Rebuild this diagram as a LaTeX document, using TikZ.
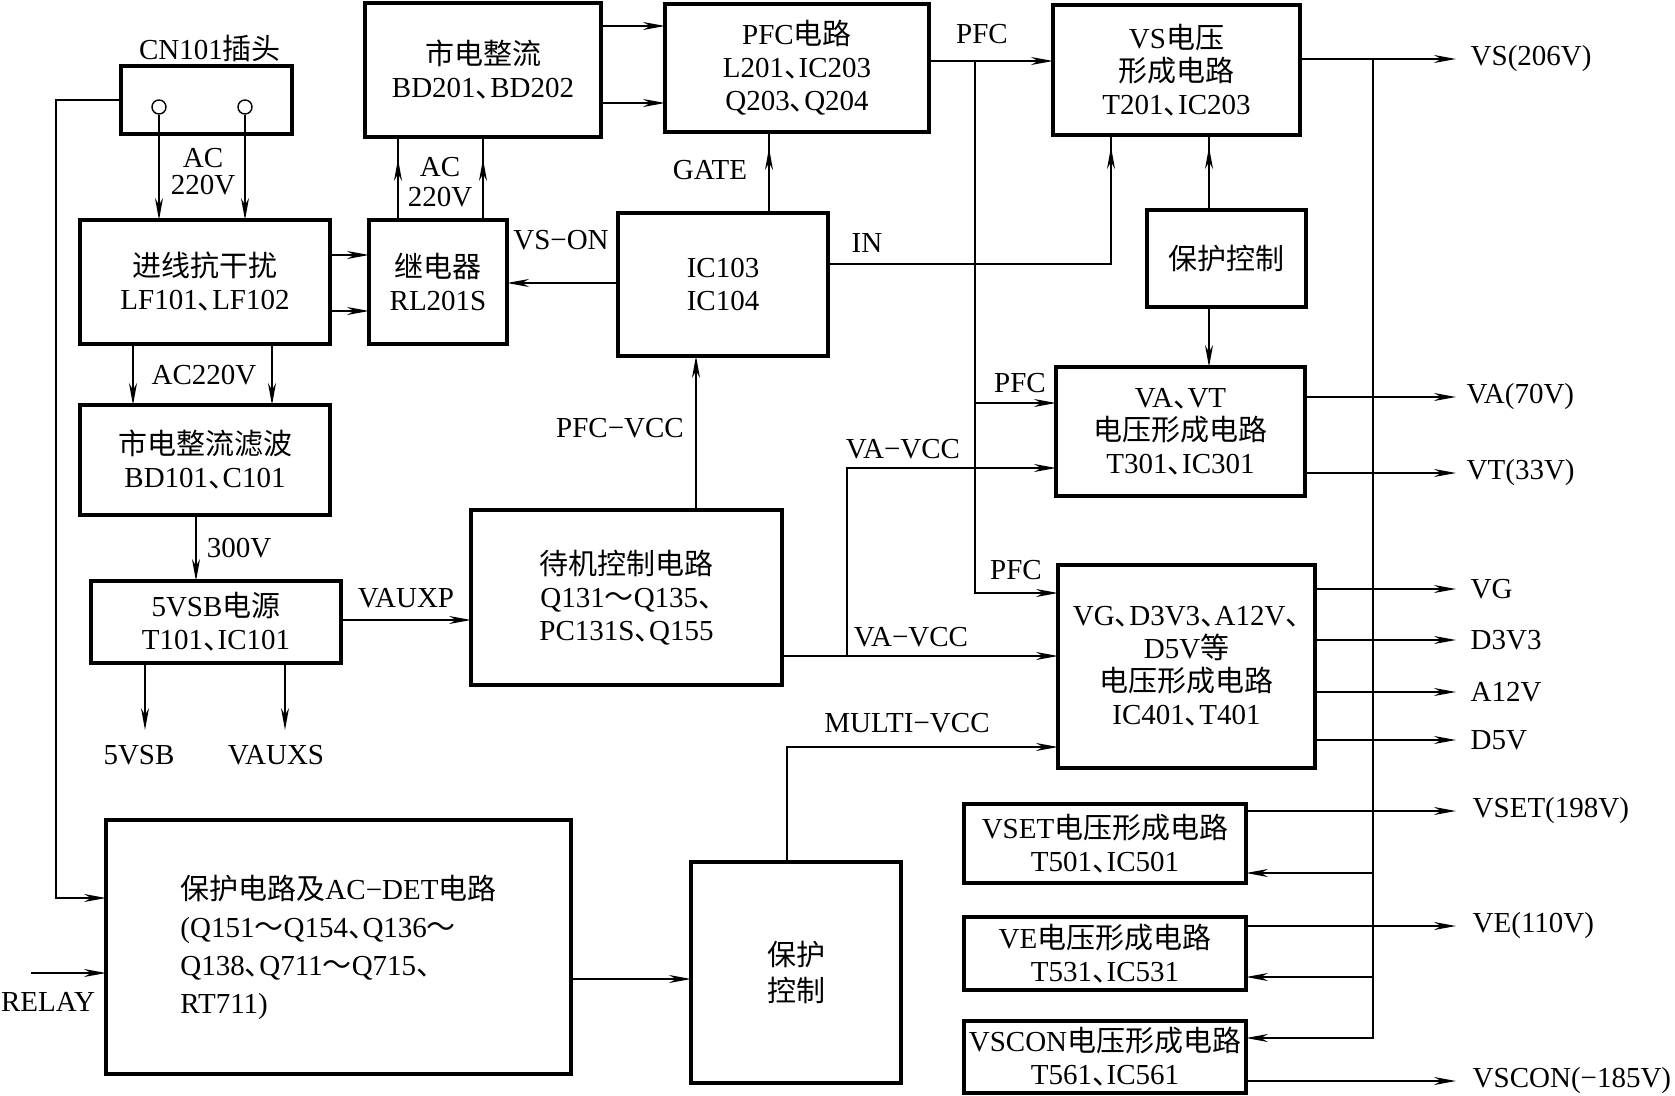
\documentclass[tikz,border=0pt]{standalone}
\usepackage{fontspec}
\setmainfont{Liberation Serif}
\newfontfamily\cjk{Noto Sans CJK SC}
\newcommand\C[1]{{\cjk #1}}
\newcommand\dun{{\cjk 、}\kern-.5em}
\newcommand\fs{\fontsize{14.5pt}{16.5pt}\selectfont}
\usetikzlibrary{arrows.meta,decorations.markings}
\begin{document}
\begin{tikzpicture}[x=0.5pt,y=-0.5pt,line width=0.7pt,
  >={Stealth[length=11pt,width=4pt,inset=3.5pt]},
  blk/.style={draw,line width=2pt,inner sep=0pt,outer sep=0pt,align=center,font=\fs},
  lbl/.style={font=\fs,inner sep=0pt},
  rlbl/.style={font=\fs,inner sep=0pt,anchor=west},
  mid/.style={postaction={decorate},decoration={markings,mark=at position -#1 with {\arrow{>}}}},
  pin/.style={circle,draw,line width=0.7pt,minimum size=7pt,inner sep=0pt}]
\useasboundingbox (0,0) rectangle (1675,1096);
% ---- boxes
\node[blk,minimum width=85.5pt,minimum height=34pt] (cn) at (206.5,100) {};
\node[blk,minimum width=125pt,minimum height=62pt] (jx) at (205,282) {\C{进线抗干扰}\\LF101\dun LF102};
\node[blk,minimum width=69pt,minimum height=62pt] (jd) at (438,282) {\C{继电器}\\RL201S};
\node[blk,minimum width=118pt,minimum height=67pt] (sz) at (483,70) {\C{市电整流}\\BD201\dun BD202};
\node[blk,minimum width=132pt,minimum height=64pt] (pfc) at (797,68) {PFC\C{电路}\\L201\dun IC203\\Q203\dun Q204};
\node[blk,minimum width=123.5pt,minimum height=65pt] (vs) at (1176.5,70) {VS\C{电压}\\\C{形成电路}\\T201\dun IC203};
\node[blk,minimum width=105pt,minimum height=71.5pt] (ic) at (723,284.5) {IC103\\IC104};
\node[blk,minimum width=79.5pt,minimum height=48.5pt] (bh1) at (1226.5,258.5) {\C{保护控制}};
\node[blk,minimum width=124.5pt,minimum height=64.5pt] (va) at (1180.5,431.5) {VA\dun VT\\\C{电压形成电路}\\T301\dun IC301};
\node[blk,minimum width=125pt,minimum height=55pt] (lb) at (205,460) {\C{市电整流滤波}\\BD101\dun C101};
\node[blk,minimum width=125pt,minimum height=41pt] (sb) at (216,622) {5VSB\C{电源}\\T101\dun IC101};
\node[blk,minimum width=155.5pt,minimum height=87.5pt] (dj) at (626.5,597.5) {\C{待机控制电路}\\Q131\C{～}Q135\dun\\PC131S\dun Q155};
\node[blk,minimum width=128.5pt,minimum height=101.5pt] (vg) at (1186.5,666.5) {VG\dun D3V3\dun A12V\dun\\D5V\C{等}\\\C{电压形成电路}\\IC401\dun T401};
\node[blk,minimum width=232.5pt,minimum height=127pt,align=left,font=\fontsize{14.5pt}{19pt}\selectfont] (bh) at (338.5,947) {\C{保护电路及}AC−DET\C{电路}\\(Q151\C{～}Q154\dun Q136\C{～}\\Q138\dun Q711\C{～}Q715\dun\\RT711)};
\node[blk,minimum width=105pt,minimum height=110.5pt,font=\fontsize{14.5pt}{18pt}\selectfont] (bk) at (796,972.5) {\C{保护}\\\C{控制}};
\node[blk,minimum width=141pt,minimum height=39.5pt] (vset) at (1105,843.5) {VSET\C{电压形成电路}\\T501\dun IC501};
\node[blk,minimum width=141pt,minimum height=36.5pt] (ve) at (1105,953.5) {VE\C{电压形成电路}\\T531\dun IC531};
\node[blk,minimum width=141pt,minimum height=36pt] (vscon) at (1105,1057) {VSCON\C{电压形成电路}\\T561\dun IC561};
% ---- pins
\node[pin] (c1) at (159,107) {};
\node[pin] (c2) at (245,107) {};
% ---- labels
\node[lbl] (lcn) at (210,48) {CN101\C{插头}};
\node[lbl,align=center,font=\fontsize{14.5pt}{13.5pt}\selectfont] (lac1) at (203,171.5) {AC\\220V};
\node[lbl,align=center,font=\fontsize{14.5pt}{15pt}\selectfont] (lac2) at (440,182) {AC\\220V};
\node[lbl] (lvson) at (561,240) {VS−ON};
\node[lbl] (lgate) at (710,170) {GATE};
\node[lbl] (lpfc1) at (982,34) {PFC};
\node[lbl] (lin) at (867,243) {IN};
\node[lbl] (lpfcvcc) at (620,428) {PFC−VCC};
\node[lbl] (lac3) at (204,375) {AC220V};
\node[lbl] (l300) at (239,548) {300V};
\node[lbl] (lvauxp) at (406,598) {VAUXP};
\node[lbl] (l5vsb) at (139,755) {5VSB};
\node[lbl] (lvauxs) at (276,755) {VAUXS};
\node[lbl] (lvavcc1) at (903,449) {VA−VCC};
\node[lbl] (lvavcc2) at (911,637) {VA−VCC};
\node[lbl] (lpfc2) at (1020,383) {PFC};
\node[lbl] (lpfc3) at (1016,570) {PFC};
\node[lbl] (lmulti) at (907,723) {MULTI−VCC};
\node[lbl] (lrelay) at (48,1002) {RELAY};
% ---- output ends and labels
\coordinate (oVS) at (1456,59);
\coordinate (oVA) at (1456,397);
\coordinate (oVT) at (1456,473);
\coordinate (oVG) at (1456,589);
\coordinate (oD3) at (1456,640);
\coordinate (oA12) at (1456,692);
\coordinate (oD5) at (1456,740);
\coordinate (oVSET) at (1456,811);
\coordinate (oVE) at (1456,926);
\coordinate (oVSCON) at (1456,1081);
\node[rlbl] (tVS) at (1470,59) {VS(206V)};
\node[rlbl] (tVA) at (1466,397) {VA(70V)};
\node[rlbl] (tVT) at (1466,473) {VT(33V)};
\node[rlbl] (tVG) at (1470,589) {VG};
\node[rlbl] (tD3) at (1470,640) {D3V3};
\node[rlbl] (tA12) at (1470,692) {A12V};
\node[rlbl] (tD5) at (1470,740) {D5V};
\node[rlbl] (tVSET) at (1472,811) {VSET(198V)};
\node[rlbl] (tVE) at (1472,926) {VE(110V)};
\node[rlbl] (tVSCON) at (1472,1081) {VSCON(−185V)};
\coordinate (o5vsb) at (145,730);
\coordinate (ovauxs) at (285,730);
\coordinate (relayin) at (31,973);
% ---- connectors
\draw[->] (cn.west |- 0,100) -- (56,100) -- (56,898) -- (bh.west |- 0,898);
\draw[->] (c1.south) -- (c1.south |- jx.north);
\draw[->] (c2.south) -- (c2.south |- jx.north);
\draw[->] (jx.east |- 0,255) -- (jd.west |- 0,255);
\draw[->] (jx.east |- 0,311) -- (jd.west |- 0,311);
\draw[mid=11pt] (jd.north -| 398,0) -- (sz.south -| 398,0);
\draw[mid=11pt] (jd.north -| 483,0) -- (sz.south -| 483,0);
\draw[->] (sz.east |- 0,26) -- (pfc.west |- 0,26);
\draw[->] (sz.east |- 0,103) -- (pfc.west |- 0,103);
\draw[->] (pfc.east |- 0,61) -- (vs.west |- 0,61);
\draw[->] (975,61) -- (975,593) -- (vg.west |- 0,593);
\draw[->] (975,403) -- (va.west |- 0,403);
\draw[->] (vs.east |- oVS) -- (oVS);
\draw[->] (1373,59) -- (1373,1038) -- (vscon.east |- 0,1038);
\draw[->] (1373,873) -- (vset.east |- 0,873);
\draw[->] (1373,977) -- (ve.east |- 0,977);
\draw[->] (ic.west |- 0,283) -- (jd.east |- 0,283);
\draw[mid=8pt] (ic.north -| 769,0) -- (pfc.south -| 769,0);
\draw[mid=6pt] (ic.east |- 0,264) -| (vs.south -| 1111,0);
\draw[mid=6pt] (bh1.north -| 1209,0) -- (vs.south -| 1209,0);
\draw[->] (bh1.south -| 1209,0) -- (va.north -| 1209,0);
\draw[->] (va.east |- oVA) -- (oVA);
\draw[->] (va.east |- oVT) -- (oVT);
\draw[->] (jx.south -| 133,0) -- (lb.north -| 133,0);
\draw[->] (jx.south -| 272,0) -- (lb.north -| 272,0);
\draw[->] (lb.south -| 196,0) -- (sb.north -| 196,0);
\draw[->] (sb.east |- 0,620) -- (dj.west |- 0,620);
\draw[->] (sb.south -| o5vsb) -- (o5vsb);
\draw[->] (sb.south -| ovauxs) -- (ovauxs);
\draw[->] (dj.north -| 696,0) -- (ic.south -| 696,0);
\draw[->] (dj.east |- 0,656) -- (vg.west |- 0,656);
\draw[->] (847,656) |- (va.west |- 0,468);
\draw[->] (vg.east |- oVG) -- (oVG);
\draw[->] (vg.east |- oD3) -- (oD3);
\draw[->] (vg.east |- oA12) -- (oA12);
\draw[->] (vg.east |- oD5) -- (oD5);
\draw[->] (bk.north -| 787,0) |- (vg.west |- 0,747);
\draw[->] (relayin) -- (bh.west |- relayin);
\draw[->] (bh.east |- 0,979) -- (bk.west |- 0,979);
\draw[->] (vset.east |- oVSET) -- (oVSET);
\draw[->] (ve.east |- oVE) -- (oVE);
\draw[->] (vscon.east |- oVSCON) -- (oVSCON);
\end{tikzpicture}
\end{document}
